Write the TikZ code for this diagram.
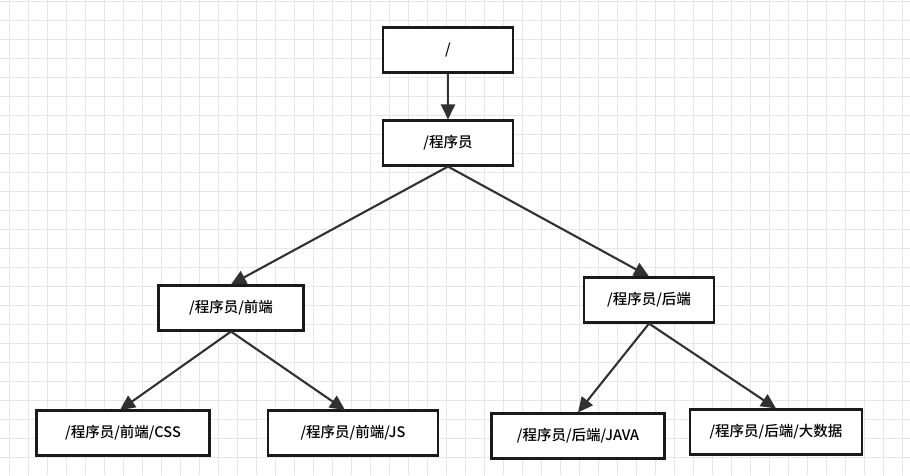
\documentclass[tikz,border=0pt]{standalone}
\usepackage{fontspec}
\setmainfont{Noto Sans CJK SC}[BoldFont={Noto Sans CJK SC Medium}]
\usetikzlibrary{arrows.meta}
\definecolor{gridgray}{HTML}{e6e6e6}
\definecolor{boxdark}{HTML}{1a1a1a}
\tikzset{
  box/.style={draw=boxdark, line width=2.1pt, fill=white, minimum height=45pt, inner sep=0pt, font=\fontsize{14.5pt}{17pt}\selectfont\bfseries},
  link/.style={draw=boxdark!90, line width=2.1pt, -{Triangle[length=15pt,width=14pt]}}
}
\begin{document}
\begin{tikzpicture}[x=1pt,y=-1pt]
  \useasboundingbox (0,0) rectangle (910,475);
  \fill[white] (0,0) rectangle (910,475);
  % background grid
  \foreach \gx in {9,28,...,910} \draw[gridgray, line width=0.8pt] (\gx,0) -- (\gx,475);
  \foreach \gy in {1,20,...,475} \draw[gridgray, line width=0.8pt] (0,\gy) -- (910,\gy);
  \node[box, minimum width=130pt] (root) at (448,50) {/};
  \node[box, minimum width=130pt] (coder) at (448,143) {/程序员};
  \node[box, minimum width=145pt] (front) at (231,308) {/程序员/前端};
  \node[box, minimum width=130pt] (back) at (649,300) {/程序员/后端};
  \node[box, minimum width=173pt] (css) at (123,433) {/程序员/前端/CSS};
  \node[box, minimum width=170pt] (js) at (353,433) {/程序员/前端/JS};
  \node[box, minimum width=173pt] (java) at (578,436) {/程序员/后端/JAVA};
  \node[box, minimum width=172pt] (bigdata) at (776,432) {/程序员/后端/大数据};
  \draw[link] (root) -- (coder);
  \draw[link] (coder.south) -- (front.north);
  \draw[link] (coder.south) -- (back.north);
  \draw[link] (front.south) -- (120,410);
  \draw[link] (front.south) -- (345,410);
  \draw[link] (back.south) -- (java.north);
  \draw[link] (back.south) -- (bigdata.north);
\end{tikzpicture}
\end{document}
